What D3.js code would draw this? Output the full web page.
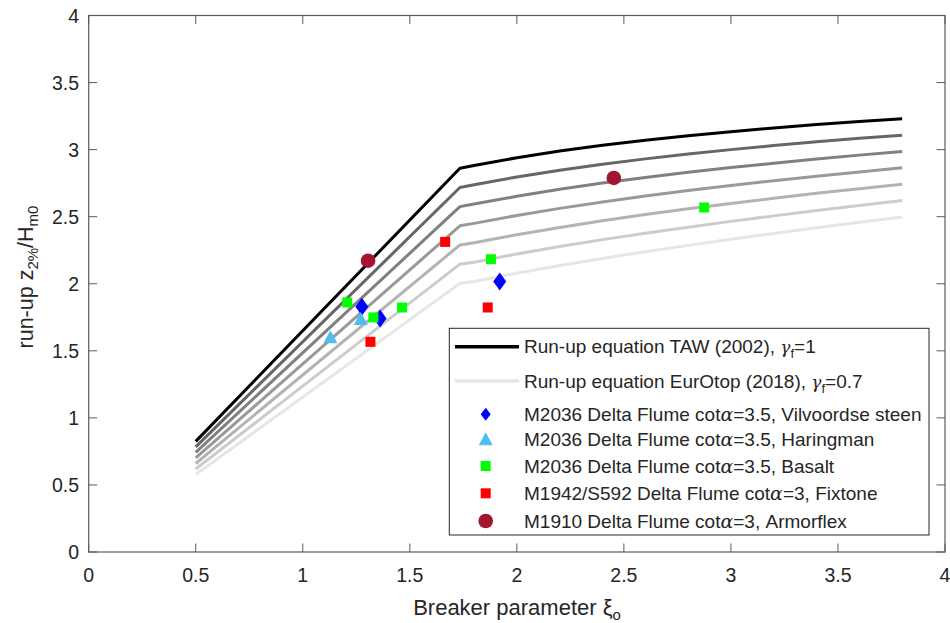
<!DOCTYPE html>
<html><head><meta charset="utf-8">
<script src="https://cdn.jsdelivr.net/npm/d3@7"></script>
<style>body{margin:0;background:#fff}svg{display:block}text{font-family:"Liberation Sans",Arial,sans-serif}</style>
</head><body>
<svg id="c" width="950" height="623"></svg>
<script>
// ---- data ----
const xiCurve = [0.5, 1.734, 1.8, 2.0, 2.2, 2.4, 2.6, 2.8, 3.0, 3.2, 3.4, 3.6, 3.8];
const curveG100 = [0.825, 2.861, 2.882, 2.939, 2.989, 3.032, 3.070, 3.104, 3.134, 3.161, 3.187, 3.209, 3.231];
const curveG095 = [0.784, 2.718, 2.738, 2.796, 2.847, 2.891, 2.931, 2.967, 3.000, 3.030, 3.058, 3.084, 3.108];
const curveG090 = [0.743, 2.575, 2.594, 2.652, 2.704, 2.751, 2.793, 2.831, 2.866, 2.899, 2.930, 2.959, 2.986];
const curveG085 = [0.701, 2.432, 2.450, 2.509, 2.562, 2.610, 2.654, 2.695, 2.733, 2.768, 2.802, 2.834, 2.864];
const curveG080 = [0.660, 2.289, 2.306, 2.366, 2.420, 2.470, 2.516, 2.559, 2.599, 2.637, 2.674, 2.708, 2.742];
const curveG075 = [0.619, 2.146, 2.161, 2.222, 2.278, 2.329, 2.377, 2.422, 2.465, 2.506, 2.546, 2.583, 2.620];
const curveG070 = [0.578, 2.003, 2.017, 2.079, 2.136, 2.189, 2.239, 2.286, 2.331, 2.375, 2.417, 2.458, 2.498];
const curves = [curveG100, curveG095, curveG090, curveG085, curveG080, curveG075, curveG070];
const curveColors = ["#000000", "#666666", "#808080", "#999999", "#b3b3b3", "#cccccc", "#e6e6e6"];

const vilvoordse = [[1.276, 1.828], [1.361, 1.741], [1.920, 2.016]];
const haringman = [[1.129, 1.601], [1.271, 1.737]];
const basalt = [[1.208, 1.860], [1.330, 1.749], [1.464, 1.823], [1.879, 2.183], [2.875, 2.569]];
const fixtone = [[1.316, 1.567], [1.665, 2.312], [1.864, 1.823]];
const armorflex = [[1.305, 2.172], [2.453, 2.789]];

const xTicks = [0, 0.5, 1, 1.5, 2, 2.5, 3, 3.5, 4];
const yTicks = [0, 0.5, 1, 1.5, 2, 2.5, 3, 3.5, 4];

// ---- layout ----
const L = 88.7, R = 945, T = 15.5, B = 552;
const svg = d3.select("#c");
const x = d3.scaleLinear().domain([0, 4]).range([L, R]);
const y = d3.scaleLinear().domain([0, 4]).range([B, T]);
const axisCol = "#5a5a5a", textCol = "#262626";

// curves
const line = d3.line().x((d, i) => x(xiCurve[i])).y(d => y(d));
curves.slice().reverse().forEach((c, k) => {
  const i = curves.length - 1 - k;
  svg.append("path").attr("d", line(c)).attr("fill", "none")
    .attr("stroke", curveColors[i]).attr("stroke-width", 3).attr("stroke-linejoin", "round");
});

// markers
const series = [
  {data: vilvoordse, shape: "diamond", color: "#0000ff", label: "M2036 Delta Flume cot", tail: "=3.5, Vilvoordse steen"},
  {data: haringman, shape: "triangle", color: "#4dbeee", label: "M2036 Delta Flume cot", tail: "=3.5, Haringman"},
  {data: basalt, shape: "square", color: "#00ff00", label: "M2036 Delta Flume cot", tail: "=3.5, Basalt"},
  {data: fixtone, shape: "square", color: "#ff0000", label: "M1942/S592 Delta Flume cot", tail: "=3, Fixtone"},
  {data: armorflex, shape: "circle", color: "#a2142f", label: "M1910 Delta Flume cot", tail: "=3, Armorflex"}
];
function drawMarker(g, shape, cx, cy, color, legend) {
  if (shape === "diamond") {
    const w = legend ? 5 : 6.5, h = legend ? 6.5 : 9;
    g.append("path").attr("d", `M${cx},${cy - h}L${cx + w},${cy}L${cx},${cy + h}L${cx - w},${cy}Z`).attr("fill", color);
  } else if (shape === "triangle") {
    g.append("path").attr("d", `M${cx},${cy - 7}L${cx + 7},${cy + 6}L${cx - 7},${cy + 6}Z`).attr("fill", color);
  } else if (shape === "square") {
    g.append("rect").attr("x", cx - 5).attr("y", cy - 5).attr("width", 10).attr("height", 10).attr("fill", color);
  } else {
    g.append("circle").attr("cx", cx).attr("cy", cy).attr("r", 7.3).attr("fill", color);
  }
}
const mg = svg.append("g");
series.forEach(s => s.data.forEach(d => drawMarker(mg, s.shape, x(d[0]), y(d[1]), s.color, false)));

// axes box and ticks
const ax = svg.append("g");
ax.append("rect").attr("x", L).attr("y", T).attr("width", R - L).attr("height", B - T)
  .attr("fill", "none").attr("stroke", axisCol).attr("stroke-width", 1.2);
const tl = 8.5;
xTicks.forEach(t => {
  ax.append("line").attr("x1", x(t)).attr("x2", x(t)).attr("y1", B).attr("y2", B - tl).attr("stroke", axisCol);
  ax.append("line").attr("x1", x(t)).attr("x2", x(t)).attr("y1", T).attr("y2", T + tl).attr("stroke", axisCol);
  ax.append("text").attr("x", x(t)).attr("y", 582).attr("text-anchor", "middle")
    .attr("font-size", 19.5).attr("fill", textCol).text(d3.format("~g")(t));
});
yTicks.forEach(t => {
  ax.append("line").attr("x1", L).attr("x2", L + tl).attr("y1", y(t)).attr("y2", y(t)).attr("stroke", axisCol);
  ax.append("line").attr("x1", R).attr("x2", R - tl).attr("y1", y(t)).attr("y2", y(t)).attr("stroke", axisCol);
  ax.append("text").attr("x", 79).attr("y", y(t) + 7).attr("text-anchor", "end")
    .attr("font-size", 19.5).attr("fill", textCol).text(d3.format("~g")(t));
});

// axis labels
const xl = svg.append("text").attr("x", 517).attr("y", 615).attr("text-anchor", "middle")
  .attr("font-size", 22).attr("fill", textCol);
xl.append("tspan").text("Breaker parameter ξ");
xl.append("tspan").attr("font-size", 15).attr("dy", 5).text("o");

const yl = svg.append("text").attr("transform", "translate(33,277) rotate(-90)").attr("text-anchor", "middle")
  .attr("font-size", 21.5).attr("fill", textCol);
yl.append("tspan").text("run-up z");
yl.append("tspan").attr("font-size", 15).attr("dy", 5).text("2%");
yl.append("tspan").attr("dy", -5).text("/H");
yl.append("tspan").attr("font-size", 15).attr("dy", 5).text("m0");

// legend
const lg = svg.append("g");
lg.append("rect").attr("x", 449.3).attr("y", 328.3).attr("width", 929 - 449.3).attr("height", 535 - 328.3)
  .attr("fill", "#fff").attr("stroke", "#262626").attr("stroke-width", 1);
const tx = 524, fs = 19;
const lineRows = [
  {color: curveColors[0], y: 346.7, text: "Run-up equation TAW (2002), ", val: "=1"},
  {color: curveColors[6], y: 381, text: "Run-up equation EurOtop (2018), ", val: "=0.7"}
];
lineRows.forEach(r => {
  lg.append("line").attr("x1", 455).attr("x2", 519).attr("y1", r.y).attr("y2", r.y)
    .attr("stroke", r.color).attr("stroke-width", 3.5);
  const t = lg.append("text").attr("x", tx).attr("y", r.y + 6.6).attr("font-size", fs).attr("fill", textCol);
  t.append("tspan").text(r.text);
  t.append("tspan").attr("font-family", "DejaVu Serif").attr("font-style", "italic").attr("font-size", 17).text("γ");
  t.append("tspan").attr("font-size", 13).attr("dy", 5).text("f");
  t.append("tspan").attr("dy", -5).text(r.val);
});
const rowY = [414.3, 439.3, 466, 493.3, 521];
series.forEach((s, i) => {
  drawMarker(lg, s.shape, 485.7, rowY[i], s.color, true);
  const t = lg.append("text").attr("x", tx).attr("y", rowY[i] + 7).attr("font-size", fs).attr("fill", textCol);
  t.append("tspan").text(s.label);
  t.append("tspan").attr("font-family", "DejaVu Serif").attr("font-style", "italic").text("α");
  t.append("tspan").text(s.tail);
});
</script>
</body></html>
